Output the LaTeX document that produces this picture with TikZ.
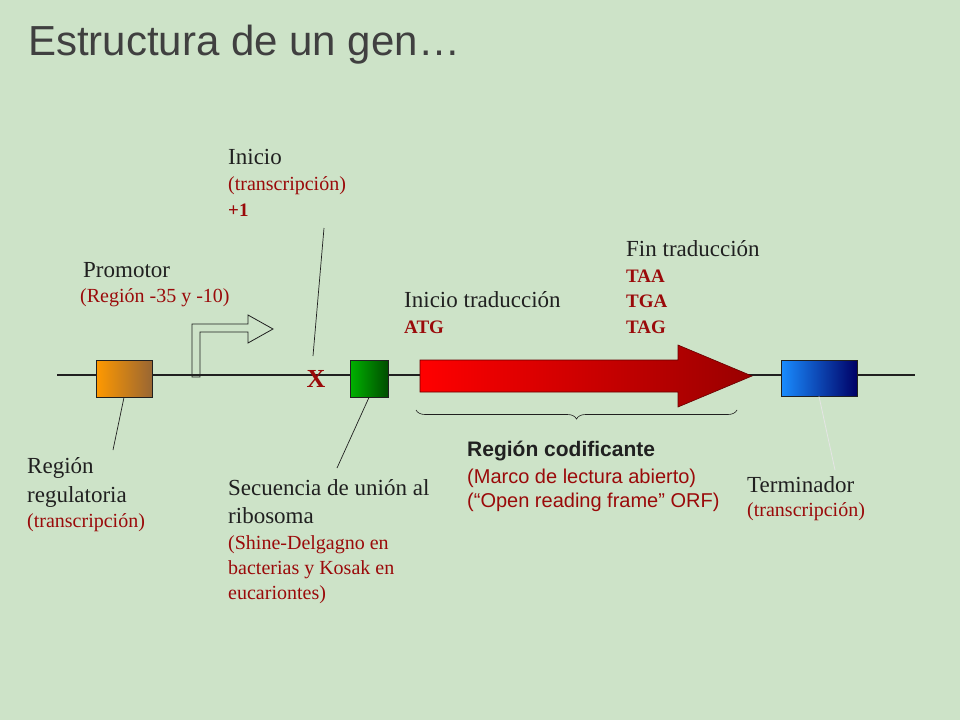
\documentclass[tikz,border=0pt]{standalone}
\usepackage{fontspec}
\setmainfont{Liberation Serif}
\setsansfont{Liberation Sans}
\usetikzlibrary{decorations.pathreplacing}
\definecolor{bg}{HTML}{CDE3C8}
\definecolor{dred}{HTML}{9A0A0A}
\definecolor{txt}{HTML}{202020}
\begin{document}
\begin{tikzpicture}[x=1pt,y=-1pt,
  lab/.style={anchor=west,inner sep=0pt,text=txt,font=\fontsize{23}{25}\selectfont},
  sub/.style={anchor=west,inner sep=0pt,text=dred,font=\fontsize{20}{22}\selectfont},
  code/.style={anchor=west,inner sep=0pt,text=dred,font=\fontsize{19}{21}\selectfont\bfseries},
  lead/.style={draw=txt,line width=0.7pt},
  gbox/.style={draw=txt,line width=0.8pt}]
\fill[bg] (0,0) rectangle (960,720);
\useasboundingbox (0,0) rectangle (960,720);
% title
\node[anchor=west,inner sep=0pt,text=black!75,font=\sffamily\fontsize{42}{44}\selectfont] (title) at (28,45) {Estructura de un gen…};
% DNA line
\coordinate (l0) at (57,375); \coordinate (l1) at (915,375);
\draw[txt,line width=1.6pt] (l0) -- (l1);
% boxes
\node[gbox,left color=orange!80!yellow,right color=brown!80!black,minimum width=56pt,minimum height=37pt,inner sep=0pt] (reg) at (124,378.5) {};
\node[gbox,left color=green!70!black,right color=green!30!black,minimum width=38pt,minimum height=37pt,inner sep=0pt] (rbs) at (369,378.5) {};
\node[gbox,left color=blue!50!cyan!90,right color=blue!40!black,minimum width=76pt,minimum height=36pt,inner sep=0pt] (term) at (819,378) {};
% promoter arrow
\draw[txt,line width=0.8pt] (192,377) -- (192,324) -- (248,324) -- (248,315) -- (273,329) -- (248,343) -- (248,332) -- (200,332) -- (200,377) -- cycle;
% coding arrow
\shade[left color=red,right color=red!60!black,draw=red!40!black,line width=0.6pt] (420,360) -- (678,360) -- (678,345) -- (752,376) -- (678,407) -- (678,392) -- (420,392) -- cycle;
% X
\node[text=dred,font=\fontsize{26}{28}\selectfont\bfseries,inner sep=0pt] (x) at (316,379) {X};
% brace
\coordinate (b0) at (737,410); \coordinate (b1) at (416,410);
\draw[txt,line width=0.6pt,decorate,decoration={brace,amplitude=9pt}] (b0) -- (b1);
% labels
\node[lab] (ini) at (228,157) {Inicio};
\node[sub] at (228,186) {(transcripción)};
\node[code] at (228,210) {+1};
\node[lab] (prom) at (83,270) {Promotor};
\node[sub] at (80,298) {(Región -35 y -10)};
\node[lab] (itr) at (404,300) {Inicio traducción};
\node[code] at (404,327) {ATG};
\node[lab] (fin) at (626,249) {Fin traducción};
\node[code] at (626,276) {TAA};
\node[code] at (626,301) {TGA};
\node[code] at (626,327) {TAG};
\node[anchor=west,inner sep=0pt,text=txt,font=\sffamily\bfseries\fontsize{21}{23}\selectfont] (rc) at (467,451) {Región codificante};
\node[anchor=west,inner sep=0pt,text=dred,font=\sffamily\fontsize{20}{22}\selectfont] at (467,478) {(Marco de lectura abierto)};
\node[anchor=west,inner sep=0pt,text=dred,font=\sffamily\fontsize{20}{22}\selectfont] at (467,502) {(“Open reading frame” ORF)};
\node[lab] (rr) at (27,468) {Región};
\node[lab] at (27,497) {regulatoria};
\node[sub] at (27,523) {(transcripción)};
\node[lab] (sq) at (228,488) {Secuencia de unión al};
\node[lab] at (228,516) {ribosoma};
\node[sub] at (228,545) {(Shine-Delgagno en};
\node[sub] at (228,570) {bacterias y Kosak en};
\node[sub] at (228,595) {eucariontes)};
\node[lab] (tm) at (747,485) {Terminador};
\node[sub] at (747,512) {(transcripción)};
% leader lines
\coordinate (c1) at (324,228); \coordinate (c2) at (313,356);
\draw[lead] (c1) -- (c2);
\coordinate (c3) at (113,450);
\draw[lead] (reg.south) -- (c3);
\coordinate (c4) at (337,468);
\draw[lead] (rbs.south) -- (c4);
\coordinate (c5) at (835,470);
\draw[white!80!gray,line width=0.8pt] (term.south) -- (c5);
\end{tikzpicture}
\end{document}
